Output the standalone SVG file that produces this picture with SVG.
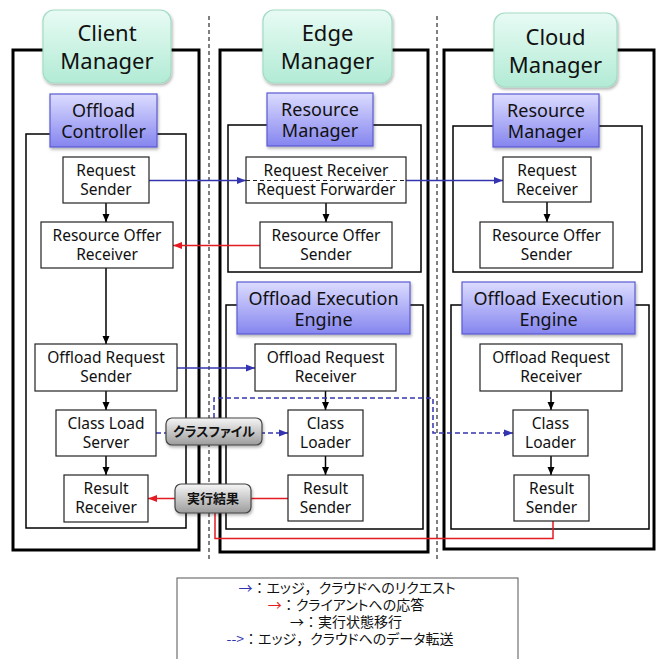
<svg xmlns="http://www.w3.org/2000/svg" width="660" height="659" viewBox="0 0 660 659">
<style>
text{font-family:"Noto Sans","Noto Sans CJK JP",sans-serif;fill:#111;text-anchor:middle}
.title{font-size:22px}
.sub{font-size:18px}
.nt{font-size:15.5px}
.outer{fill:none;stroke:#000;stroke-width:3}
.inner{fill:none;stroke:#000;stroke-width:1.5}
.node{fill:#fff;stroke:#222;stroke-width:1.2}
.green{fill:url(#gGreen);stroke:#a3dcc4;stroke-width:1.2;filter:url(#sh)}
.purple{fill:url(#gPurple);stroke:#5a5ad2;stroke-width:1.2;filter:url(#sh)}
.lab{fill:url(#gGray);stroke:#444;stroke-width:1.2;filter:url(#sh)}
.labt{font-family:"Noto Sans CJK JP",sans-serif;font-size:13px;font-weight:bold;font-feature-settings:"palt"}
.sep{stroke:#000;stroke-width:1;stroke-dasharray:4,3}
.blk{stroke:#000;stroke-width:1.5;fill:none;marker-end:url(#aK)}
.blu{stroke:#3434b0;stroke-width:1.5;fill:none;marker-end:url(#aB)}
.bld{stroke:#3434b0;stroke-width:1.5;fill:none;stroke-dasharray:5,3}
.red{stroke:#e41b23;stroke-width:1.5;fill:none}
.leg{font-family:"Noto Sans CJK JP",sans-serif;font-size:14px}
.p{font-feature-settings:"palt"}
</style>
<defs>
<linearGradient id="gGreen" x1="0" y1="0" x2="0" y2="1"><stop offset="0" stop-color="#e8fbf4"/><stop offset="1" stop-color="#b2ebd5"/></linearGradient>
<linearGradient id="gPurple" x1="0" y1="0" x2="0" y2="1"><stop offset="0" stop-color="#dcdcff"/><stop offset="1" stop-color="#8585ef"/></linearGradient>
<linearGradient id="gGray" x1="0" y1="0" x2="0" y2="1"><stop offset="0" stop-color="#f6f6f6"/><stop offset="1" stop-color="#9c9c9c"/></linearGradient>
<filter id="sh" x="-10%" y="-10%" width="125%" height="130%"><feDropShadow dx="1" dy="2" stdDeviation="1.5" flood-color="#000" flood-opacity="0.3"/></filter>
<marker id="aK" markerUnits="userSpaceOnUse" markerWidth="8" markerHeight="8" refX="8" refY="4" orient="auto"><path d="M0,0.5 L8,4 L0,7.5 z" fill="#000"/></marker>
<marker id="aB" markerUnits="userSpaceOnUse" markerWidth="9" markerHeight="8" refX="9" refY="4" orient="auto"><path d="M0,0.5 L9,4 L0,7.5 z" fill="#3434b0"/></marker>
<marker id="aR" markerUnits="userSpaceOnUse" markerWidth="9" markerHeight="8" refX="9" refY="4" orient="auto"><path d="M0,0.5 L9,4 L0,7.5 z" fill="#e41b23"/></marker>
</defs>
<rect width="660" height="659" fill="#fff"/>

<g id="separators">
<line class="sep" x1="209" y1="16" x2="209" y2="560"/>
<line class="sep" x1="437" y1="16" x2="437" y2="560"/>
</g>

<g id="frames">
<rect class="outer" x="13" y="50" width="186" height="500"/>
<rect class="outer" x="220" y="50" width="208" height="502"/>
<rect class="outer" x="444" y="50" width="210" height="499"/>
<rect class="inner" x="26" y="134" width="160" height="394"/>
<rect class="inner" x="228" y="125" width="193" height="147"/>
<rect class="inner" x="226" y="305" width="197" height="224"/>
<rect class="inner" x="453" y="126" width="189" height="146"/>
<rect class="inner" x="451" y="305" width="198" height="224"/>
</g>

<g id="connectors">
<line class="blk" x1="106" y1="203" x2="106" y2="222"/>
<line class="blk" x1="106" y1="268" x2="106" y2="344"/>
<line class="blk" x1="106" y1="391" x2="106" y2="410"/>
<line class="blk" x1="106" y1="456" x2="106" y2="475"/>
<line class="blk" x1="326" y1="203" x2="326" y2="222"/>
<line class="blk" x1="325.5" y1="391" x2="325.5" y2="410"/>
<line class="blk" x1="325.5" y1="456" x2="325.5" y2="475"/>
<line class="blk" x1="547" y1="202" x2="547" y2="222"/>
<line class="blk" x1="551" y1="391" x2="551" y2="410"/>
<line class="blk" x1="551" y1="456" x2="551" y2="475"/>
<line class="blu" x1="149" y1="180.5" x2="246" y2="180.5"/>
<line class="blu" x1="406" y1="180.5" x2="503" y2="180.5"/>
<line class="red" x1="260" y1="245.5" x2="173" y2="245.5" marker-end="url(#aR)"/>
<line class="blu" x1="177" y1="368" x2="255" y2="368"/>
<path class="bld" d="M156,433 H288" marker-end="url(#aB)"/>
<path class="bld" d="M214,418 V398 H433 V433 H513" marker-end="url(#aB)"/>
<line class="red" x1="288" y1="498.5" x2="148" y2="498.5" marker-end="url(#aR)"/>
<path class="red" d="M553,521 V538.5 H215 V513"/>
</g>

<g id="client-manager"><rect class="green" x="43" y="10" width="128" height="73" rx="11"/><text class="title" x="107" y="41">Client</text><text class="title" x="107" y="69">Manager</text></g>
<g id="edge-manager"><rect class="green" x="263" y="10" width="129" height="73" rx="11"/><text class="title" x="327.5" y="41">Edge</text><text class="title" x="327.5" y="69">Manager</text></g>
<g id="cloud-manager"><rect class="green" x="494" y="13" width="123" height="74" rx="11"/><text class="title" x="555.5" y="45">Cloud</text><text class="title" x="555.5" y="73">Manager</text></g>

<g id="offload-controller"><rect class="purple" x="50" y="94" width="107" height="53"/><text class="sub" x="103.5" y="117">Offload</text><text class="sub" x="103.5" y="138">Controller</text></g>
<g id="edge-resource-manager"><rect class="purple" x="267" y="93" width="106" height="53"/><text class="sub" x="320" y="116">Resource</text><text class="sub" x="320" y="137">Manager</text></g>
<g id="cloud-resource-manager"><rect class="purple" x="493" y="94" width="106" height="53"/><text class="sub" x="546" y="117">Resource</text><text class="sub" x="546" y="138">Manager</text></g>
<g id="edge-oee"><rect class="purple" x="237" y="282" width="173" height="52"/><text class="sub" x="323.5" y="305">Offload Execution</text><text class="sub" x="323.5" y="326">Engine</text></g>
<g id="cloud-oee"><rect class="purple" x="462" y="282" width="173" height="52"/><text class="sub" x="548.5" y="305">Offload Execution</text><text class="sub" x="548.5" y="326">Engine</text></g>

<g id="c-request-sender"><rect class="node" x="63" y="157" width="86" height="46"/><text class="nt" x="106" y="176">Request</text><text class="nt" x="106" y="195">Sender</text></g>
<g id="c-resource-offer-receiver"><rect class="node" x="41" y="222" width="132" height="46"/><text class="nt" x="107" y="241">Resource Offer</text><text class="nt" x="107" y="260">Receiver</text></g>
<g id="c-offload-request-sender"><rect class="node" x="35" y="344" width="142" height="47"/><text class="nt" x="106" y="363">Offload Request</text><text class="nt" x="106" y="382">Sender</text></g>
<g id="c-class-load-server"><rect class="node" x="56" y="410" width="100" height="46"/><text class="nt" x="106" y="429">Class Load</text><text class="nt" x="106" y="448">Server</text></g>
<g id="c-result-receiver"><rect class="node" x="64" y="475" width="84" height="47"/><text class="nt" x="106" y="494">Result</text><text class="nt" x="106" y="513">Receiver</text></g>

<g id="e-request-receiver-forwarder"><rect class="node" x="246" y="157" width="160" height="46"/><line x1="246" y1="180.5" x2="406" y2="180.5" stroke="#222" stroke-width="1" stroke-dasharray="4,3"/><text class="nt" x="326" y="176">Request Receiver</text><text class="nt" x="326" y="195">Request Forwarder</text></g>
<g id="e-resource-offer-sender"><rect class="node" x="260" y="222" width="132" height="46"/><text class="nt" x="326" y="241">Resource Offer</text><text class="nt" x="326" y="260">Sender</text></g>
<g id="e-offload-request-receiver"><rect class="node" x="255" y="344" width="141" height="47"/><text class="nt" x="325.5" y="363">Offload Request</text><text class="nt" x="325.5" y="382">Receiver</text></g>
<g id="e-class-loader"><rect class="node" x="288" y="410" width="75" height="46"/><text class="nt" x="325.5" y="429">Class</text><text class="nt" x="325.5" y="448">Loader</text></g>
<g id="e-result-sender"><rect class="node" x="288" y="475" width="75" height="46"/><text class="nt" x="325.5" y="494">Result</text><text class="nt" x="325.5" y="513">Sender</text></g>

<g id="k-request-receiver"><rect class="node" x="503" y="157" width="88" height="45"/><text class="nt" x="547" y="176">Request</text><text class="nt" x="547" y="195">Receiver</text></g>
<g id="k-resource-offer-sender"><rect class="node" x="480" y="222" width="133" height="46"/><text class="nt" x="546.5" y="241">Resource Offer</text><text class="nt" x="546.5" y="260">Sender</text></g>
<g id="k-offload-request-receiver"><rect class="node" x="480" y="344" width="142" height="47"/><text class="nt" x="551" y="363">Offload Request</text><text class="nt" x="551" y="382">Receiver</text></g>
<g id="k-class-loader"><rect class="node" x="513" y="410" width="75" height="46"/><text class="nt" x="550.5" y="429">Class</text><text class="nt" x="550.5" y="448">Loader</text></g>
<g id="k-result-sender"><rect class="node" x="514" y="475" width="75" height="46"/><text class="nt" x="551.5" y="494">Result</text><text class="nt" x="551.5" y="513">Sender</text></g>

<g id="label-classfile"><rect class="lab" x="166" y="418" width="96" height="27" rx="6"/><text class="labt" x="214" y="436">クラスファイル</text></g>
<g id="label-result"><rect class="lab" x="175" y="484" width="76" height="29" rx="6"/><text class="labt" x="213" y="503">実行結果</text></g>

<g id="legend">
<rect x="177" y="578" width="341" height="90" fill="#fff" stroke="#555" stroke-width="1"/>
<text class="leg" x="347" y="593"><tspan fill="#3434b0">→</tspan>：<tspan class="p">エッジ</tspan>，<tspan class="p">クラウドへのリクエスト</tspan></text>
<text class="leg" x="346" y="610"><tspan fill="#e41b23">→</tspan>：<tspan class="p">クライアントへの応答</tspan></text>
<text class="leg" x="346" y="627">→：実行状態移行</text>
<text class="leg" x="340" y="644"><tspan fill="#3434b0">--&gt;</tspan>：<tspan class="p">エッジ</tspan>，<tspan class="p">クラウドへのデータ転送</tspan></text>
</g>
</svg>
